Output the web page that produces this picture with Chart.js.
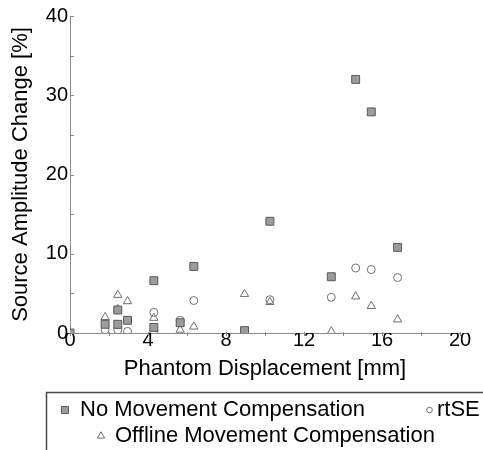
<!DOCTYPE html>
<html>
<head>
<meta charset="utf-8">
<script src="https://cdn.jsdelivr.net/npm/chart.js@4/dist/chart.umd.min.js"></script>
<style>
html,body{margin:0;padding:0;background:#fff;overflow:hidden}
#wrap{width:483px;height:450px;position:relative}
</style>
</head>
<body>
<div id="wrap"><canvas id="c" width="483" height="450"></canvas></div>
<script>
// ---- data ----
const seriesNames = ["No Movement Compensation", "rtSE", "Offline Movement Compensation"];
const xTickLabels = [0, 4, 8, 12, 16, 20];
const yTickLabels = [0, 10, 20, 30, 40];
const xTitle = "Phantom Displacement [mm]";
const yTitle = "Source Amplitude Change [%]";

// No Movement Compensation (squares)
const noCompX = [0, 1.8, 2.45, 2.45, 2.95, 4.3, 4.3, 5.65, 6.35, 8.95, 10.25, 13.4, 14.65, 15.45, 16.8];
const noCompY = [0, 1.1, 2.9, 1.1, 1.6, 6.6, 0.7, 1.3, 8.4, 0.3, 14.1, 7.1, 32.0, 27.9, 10.8];
// rtSE (circles)
const rtseX = [1.8, 2.45, 2.95, 4.3, 4.3, 5.65, 6.35, 8.95, 10.25, 13.4, 14.65, 15.45, 16.8];
const rtseY = [0.4, 0.4, 0.2, 2.6, 0.0, 1.6, 4.1, 0.1, 4.2, 4.5, 8.2, 8.0, 7.0];
// Offline Movement Compensation (triangles)
const offX = [1.8, 2.45, 2.45, 2.45, 2.95, 4.3, 4.3, 5.65, 6.35, 8.95, 10.25, 13.4, 14.65, 15.45, 16.8];
const offY = [2.0, 4.8, 3.0, 0.9, 4.0, 1.9, 0.6, 0.4, 0.8, 4.9, 3.9, 0.2, 4.6, 3.4, 1.7];

const toPts = (xs, ys) => xs.map((x, i) => ({x: x, y: ys[i]}));

const FONT = '"Liberation Sans", Arial, Helvetica, sans-serif';
Chart.defaults.font.family = FONT;
Chart.defaults.color = '#000';

const styles = [
  {pointStyle: 'rect', radius: 5.6, bg: '#9c9c9c', border: '#5a5a5a', lr: 5},
  {pointStyle: 'circle', radius: 4, bg: 'rgba(0,0,0,0)', border: '#707070', lr: 2.8},
  {pointStyle: 'triangle', radius: 4.8, bg: 'rgba(0,0,0,0)', border: '#707070', lr: 4.2}
];

// inward/outward small tick marks
const tickPlugin = {
  id: 'axTicks',
  beforeDatasetsDraw(chart) {
    const {ctx, scales: {x, y}, chartArea: a} = chart;
    ctx.save();
    ctx.strokeStyle = '#8a8a8a';
    ctx.lineWidth = 1;
    ctx.beginPath();
    x.ticks.forEach(t => {
      const px = Math.round(x.getPixelForValue(t.value)) + 0.5;
      ctx.moveTo(px, a.bottom - 1);
      ctx.lineTo(px, a.bottom + 3);
    });
    y.ticks.forEach(t => {
      const py = Math.round(y.getPixelForValue(t.value)) + 0.5;
      ctx.moveTo(a.left, py);
      ctx.lineTo(a.left + 4, py);
    });
    ctx.stroke();
    ctx.restore();
  }
};

// boxed legend, cut by the right and bottom edges as in the reference
const legendPlugin = {
  id: 'boxLegend',
  afterDraw(chart) {
    const ctx = chart.ctx;
    ctx.save();
    ctx.strokeStyle = '#4a4a4a';
    ctx.lineWidth = 1.5;
    ctx.strokeRect(46.5, 392.5, 520, 120);
    const items = [
      {i: 0, mx: 65, tx: 80, y: 410},
      {i: 1, mx: 429.5, tx: 437, y: 410},
      {i: 2, mx: 101, tx: 115, y: 436}
    ];
    items.forEach(it => {
      const ds = chart.data.datasets[it.i];
      const st = styles[it.i];
      ctx.fillStyle = st.bg;
      ctx.strokeStyle = st.border;
      ctx.lineWidth = 1;
      Chart.helpers.drawPoint(ctx, {pointStyle: st.pointStyle, radius: st.lr, borderWidth: 1, rotation: 0}, it.mx, it.y);
      ctx.fillStyle = '#000';
      ctx.font = '22px ' + FONT;
      ctx.textBaseline = 'middle';
      ctx.textAlign = 'left';
      ctx.fillText(ds.label, it.tx, it.y);
    });
    ctx.restore();
  }
};

const mk = (i, pts) => ({
  label: seriesNames[i],
  data: pts,
  pointStyle: styles[i].pointStyle,
  pointRadius: styles[i].radius,
  pointHoverRadius: styles[i].radius,
  pointBackgroundColor: styles[i].bg,
  pointBorderColor: styles[i].border,
  pointBorderWidth: 1,
  showLine: false
});

new Chart(document.getElementById('c'), {
  type: 'scatter',
  data: {
    datasets: [
      mk(0, toPts(noCompX, noCompY)),
      mk(1, toPts(rtseX, rtseY)),
      mk(2, toPts(offX, offY))
    ]
  },
  options: {
    responsive: false,
    devicePixelRatio: 1,
    animation: false,
    events: [],
    layout: {padding: {left: 0, right: 23, top: 16, bottom: 60}},
    plugins: {legend: {display: false}, tooltip: {enabled: false}},
    scales: {
      x: {
        type: 'linear', position: 'bottom', min: 0, max: 20,
        afterFit: s => { s.height = 57; },
        border: {display: true, color: '#8a8a8a', width: 1},
        grid: {display: true, drawOnChartArea: false, drawTicks: false},
        ticks: {
          stepSize: 2, autoSkip: false, maxRotation: 0, padding: -3,
          font: {size: 20, lineHeight: 1}, color: '#000',
          callback: v => xTickLabels.includes(v) ? String(v) : ''
        },
        title: {display: true, text: xTitle, font: {size: 22}, color: '#000', padding: {top: 0, bottom: 7.6}}
      },
      y: {
        type: 'linear', position: 'left', min: 0, max: 40,
        afterFit: s => { s.width = 70; },
        border: {display: true, color: '#8a8a8a', width: 1},
        grid: {display: true, drawOnChartArea: false, drawTicks: false},
        ticks: {
          stepSize: 5, autoSkip: false, padding: 2,
          font: {size: 20, lineHeight: 1}, color: '#000',
          callback: v => yTickLabels.includes(v) ? String(v) : ''
        },
        title: {display: true, text: yTitle, font: {size: 22}, color: '#000', padding: {top: 8, bottom: 0}}
      }
    }
  },
  plugins: [tickPlugin, legendPlugin]
});
</script>
</body>
</html>
